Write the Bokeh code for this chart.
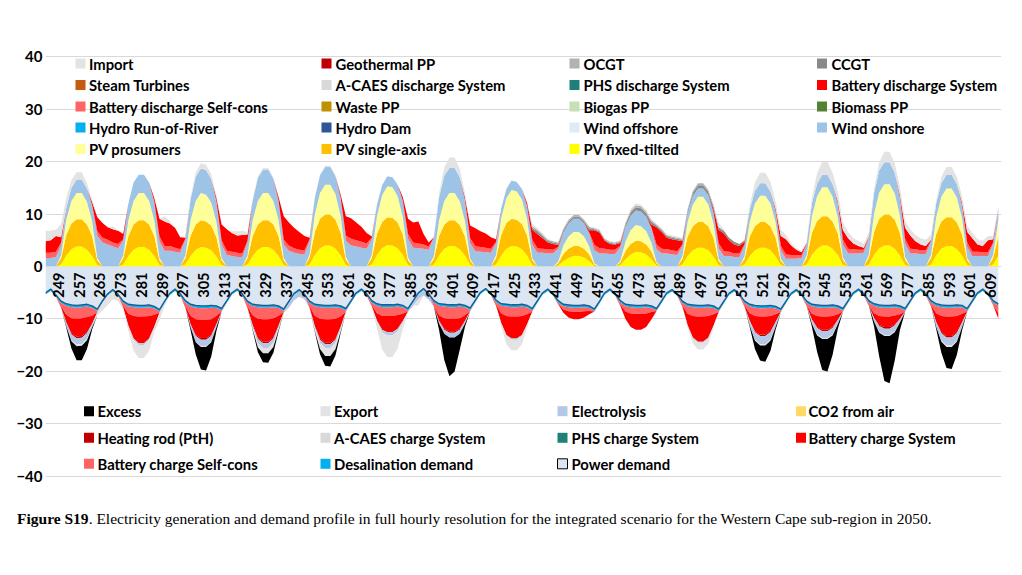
import numpy as np
from bokeh.plotting import figure
from bokeh.models import Range1d, FixedTicker, Div
from bokeh.layouts import column
from bokeh.core.properties import value
from bokeh.embed import file_html
from bokeh.resources import INLINE

# ---------------- data (2-hourly samples, one row per day) ----------------
START_HOUR = 244
STEP = 2
Z = [0] * 12

PV_FIXED = [
    [0, 0, 0, 0.4, 2.1, 3.3, 3.8, 3.8, 3.2, 2.0, 0.3, 0],
    [0, 0, 0, 0.4, 2.0, 3.2, 3.7, 3.7, 3.2, 2.0, 0.3, 0],
    [0, 0, 0, 0.4, 2.0, 3.2, 3.7, 3.6, 3.1, 1.9, 0.3, 0],
    [0, 0, 0, 0.4, 2.0, 3.2, 3.7, 3.7, 3.2, 2.0, 0.3, 0],
    [0, 0, 0, 0.4, 2.2, 3.5, 4.0, 4.0, 3.4, 2.1, 0.3, 0],
    [0, 0, 0, 0.4, 2.2, 3.5, 4.1, 4.0, 3.5, 2.2, 0.3, 0],
    [0, 0, 0, 0.4, 2.1, 3.4, 3.9, 3.9, 3.3, 2.1, 0.3, 0],
    [0, 0, 0, 0.4, 2.1, 3.4, 3.9, 3.8, 3.3, 2.1, 0.3, 0],
    [0, 0, 0, 0.2, 1.0, 1.6, 2.0, 2.0, 1.7, 1.0, 0.1, 0],
    [0, 0, 0, 0.3, 1.4, 2.3, 2.8, 2.7, 2.3, 1.4, 0.2, 0],
    [0, 0, 0, 0.4, 2.0, 3.1, 3.6, 3.6, 3.1, 1.9, 0.3, 0],
    [0, 0, 0, 0.4, 2.0, 3.1, 3.6, 3.6, 3.1, 1.9, 0.3, 0],
    [0, 0, 0, 0.4, 2.2, 3.4, 4.0, 4.0, 3.4, 2.2, 0.3, 0],
    [0, 0, 0, 0.4, 2.2, 3.5, 4.0, 4.0, 3.4, 2.1, 0.3, 0],
    [0, 0, 0, 0.4, 2.1, 3.4, 3.9, 3.9, 3.3, 2.1, 0.3, 0],
    [0, 0, 0, 0.4, 2.0],
]
PV_SINGLE = [
    [0, 0, 0, 1.2, 3.9, 4.9, 5.2, 5.2, 4.8, 3.8, 0.9, 0],
    [0, 0, 0, 1.2, 3.8, 4.8, 5.1, 5.1, 4.8, 3.8, 0.9, 0],
    [0, 0, 0, 1.2, 3.8, 4.8, 5.1, 5.0, 4.7, 3.7, 0.9, 0],
    [0, 0, 0, 1.2, 3.8, 4.8, 5.1, 5.1, 4.8, 3.8, 0.9, 0],
    [0, 0, 0, 1.3, 4.4, 5.6, 5.9, 5.9, 5.5, 4.3, 1.0, 0],
    [0, 0, 0, 1.2, 4.0, 5.0, 5.3, 5.3, 4.9, 3.9, 0.9, 0],
    [0, 0, 0, 1.1, 3.7, 4.6, 4.9, 4.9, 4.6, 3.6, 0.8, 0],
    [0, 0, 0, 1.2, 3.9, 4.9, 5.2, 5.1, 4.8, 3.8, 0.9, 0],
    [0, 0, 0, 0.4, 1.4, 1.8, 1.9, 1.9, 1.7, 1.3, 0.3, 0],
    [0, 0, 0, 0.5, 1.6, 2.0, 2.1, 2.1, 1.9, 1.5, 0.4, 0],
    [0, 0, 0, 1.1, 3.7, 4.6, 4.9, 4.9, 4.6, 3.6, 0.8, 0],
    [0, 0, 0, 1.1, 3.7, 4.6, 4.9, 4.9, 4.6, 3.6, 0.8, 0],
    [0, 0, 0, 1.2, 4.2, 5.3, 5.6, 5.6, 5.2, 4.1, 1.0, 0],
    [0, 0, 0, 1.3, 4.4, 5.6, 5.9, 5.9, 5.5, 4.3, 1.0, 0],
    [0, 0, 0, 1.2, 4.1, 5.2, 5.5, 5.5, 5.1, 4.0, 0.9, 0],
    [0, 0, 0, 1.2, 3.8],
]
PV_PROS = [
    [0, 0, 0, 0.5, 2.9, 4.3, 5.0, 5.0, 4.3, 2.8, 0.4, 0],
    [0, 0, 0, 0.5, 3.0, 4.5, 5.2, 5.2, 4.5, 3.0, 0.4, 0],
    [0, 0, 0, 0.5, 3.0, 4.5, 5.2, 5.1, 4.4, 2.9, 0.4, 0],
    [0, 0, 0, 0.5, 3.0, 4.5, 5.2, 5.2, 4.5, 3.0, 0.4, 0],
    [0, 0, 0, 0.6, 3.3, 4.9, 5.7, 5.7, 4.9, 3.2, 0.5, 0],
    [0, 0, 0, 0.6, 3.4, 5.1, 5.9, 5.8, 5.0, 3.3, 0.5, 0],
    [0, 0, 0, 0.5, 3.0, 4.5, 5.2, 5.2, 4.5, 3.0, 0.4, 0],
    [0, 0, 0, 0.6, 3.2, 4.7, 5.5, 5.4, 4.7, 3.1, 0.4, 0],
    [0, 0, 0, 0.3, 1.6, 2.3, 2.7, 2.7, 2.3, 1.5, 0.2, 0],
    [0, 0, 0, 0.3, 1.7, 2.6, 3.0, 2.9, 2.5, 1.7, 0.2, 0],
    [0, 0, 0, 0.5, 2.8, 4.1, 4.8, 4.8, 4.1, 2.7, 0.4, 0],
    [0, 0, 0, 0.5, 2.9, 4.3, 5.0, 5.0, 4.3, 2.9, 0.4, 0],
    [0, 0, 0, 0.6, 3.2, 4.7, 5.5, 5.5, 4.7, 3.1, 0.4, 0],
    [0, 0, 0, 0.6, 3.4, 5.0, 5.8, 5.8, 5.0, 3.3, 0.5, 0],
    [0, 0, 0, 0.6, 3.2, 4.7, 5.5, 5.5, 4.7, 3.1, 0.4, 0],
    [0, 0, 0, 0.6, 3.0],
]
WIND_ON = [
    [1.6, 1.6, 1.8, 2.0, 2.3, 2.5, 2.6, 2.6, 2.6, 3.0, 4.2, 4.6],
    [4.2, 3.8, 3.5, 2.8, 3.2, 3.5, 3.5, 3.5, 3.5, 3.4, 3.2, 3.0],
    [3.0, 2.8, 2.6, 3.0, 4.0, 4.6, 4.7, 4.7, 4.5, 3.8, 2.6, 2.2],
    [2.0, 1.8, 1.8, 2.5, 3.8, 4.4, 4.5, 4.5, 4.3, 3.6, 2.6, 3.0],
    [2.6, 2.4, 2.3, 2.6, 3.2, 3.4, 3.4, 3.4, 3.4, 3.3, 3.1, 4.0],
    [3.8, 3.6, 3.4, 3.0, 2.2, 1.9, 1.9, 1.9, 2.2, 3.0, 3.6, 3.6],
    [3.5, 3.4, 3.2, 3.5, 4.4, 4.8, 4.8, 4.8, 4.6, 3.8, 3.0, 2.9],
    [2.8, 2.7, 2.6, 2.2, 1.9, 1.8, 1.8, 1.8, 2.0, 2.4, 2.6, 2.6],
    [2.6, 2.5, 2.5, 2.5, 2.5, 2.5, 2.5, 2.5, 2.5, 2.5, 2.5, 2.5],
    [2.5, 2.4, 2.4, 2.6, 2.8, 2.8, 2.8, 2.8, 2.8, 2.7, 2.5, 2.5],
    [2.5, 2.3, 2.2, 1.9, 1.6, 1.6, 1.6, 1.6, 1.8, 2.0, 2.0, 2.0],
    [2.0, 1.8, 1.8, 2.0, 2.3, 2.4, 2.4, 2.4, 2.3, 2.0, 1.6, 1.5],
    [1.5, 1.5, 1.6, 2.0, 2.4, 2.4, 2.4, 2.4, 2.4, 2.5, 2.5, 2.5],
    [2.5, 2.5, 2.6, 3.2, 4.0, 4.2, 4.2, 4.2, 4.0, 3.4, 2.6, 2.5],
    [2.5, 2.4, 2.4, 2.5, 2.6, 2.6, 2.6, 2.6, 2.6, 2.4, 2.1, 2.0],
    [2.0, 2.0, 2.0, 2.1, 2.3],
]
BATT_DIS_SELF = [
    [1.0, 1.0, 1.0, 0.5, 0, 0, 0, 0, 0, 0.2, 0.9, 0.9],
    [0.9, 0.8, 0.8, 0.3, 0, 0, 0, 0, 0, 0.2, 0.9, 0.9],
    [0.9, 0.8, 0.7, 0.2, 0, 0, 0, 0, 0, 0.2, 0.8, 0.8],
    [0.8, 0.8, 0.7, 0.3, 0, 0, 0, 0, 0, 0.2, 0.9, 1.0],
    [0.9, 0.8, 0.8, 0.3, 0, 0, 0, 0, 0, 0.2, 1.0, 1.3],
    [1.2, 1.1, 1.0, 0.3, 0, 0, 0, 0, 0, 0.2, 0.9, 1.0],
    [0.9, 0.8, 0.6, 0.1, 0, 0, 0, 0, 0, 0.2, 0.9, 1.0],
    [0.9, 0.9, 0.8, 0.3, 0, 0, 0, 0, 0, 0.2, 0.9, 0.9],
    [0.8, 0.8, 0.7, 0.3, 0, 0, 0, 0, 0, 0.2, 1.0, 1.0],
    [0.9, 0.8, 0.8, 0.3, 0, 0, 0, 0, 0, 0.2, 0.9, 0.9],
    [0.8, 0.8, 0.7, 0.3, 0, 0, 0, 0, 0, 0.2, 0.9, 0.9],
    [0.8, 0.7, 0.7, 0.3, 0, 0, 0, 0, 0, 0.2, 0.8, 0.8],
    [0.7, 0.7, 0.6, 0.2, 0, 0, 0, 0, 0, 0.2, 0.9, 0.9],
    [0.8, 0.7, 0.6, 0.1, 0, 0, 0, 0, 0, 0.2, 0.9, 0.9],
    [0.8, 0.7, 0.7, 0.2, 0, 0, 0, 0, 0, 0.2, 0.9, 0.8],
    [0.8, 0.7, 0.7, 0.3, 0],
]
BATT_DIS_SYS = [
    [2.2, 2.4, 3.0, 1.0, 0, 0, 0, 0, 0, 0.5, 2.7, 2.8],
    [2.4, 2.5, 2.5, 1.0, 0, 0, 0, 0, 0, 0.6, 3.4, 4.7],
    [4.3, 3.8, 2.3, 0.2, 0, 0, 0, 0, 0, 0.6, 3.0, 4.1],
    [3.6, 3.3, 3.5, 1.2, 0, 0, 0, 0, 0, 0.6, 4.5, 4.4],
    [3.9, 3.4, 2.7, 0.3, 0, 0, 0, 0, 0, 0.6, 3.7, 3.9],
    [3.4, 2.9, 2.0, 0.2, 0, 0, 0, 0, 0, 0.6, 2.9, 3.8],
    [4.2, 2.0, 0.8, 0.0, 0, 0, 0, 0, 0, 0.5, 2.4, 3.4],
    [3.0, 2.7, 2.2, 0.5, 0, 0, 0, 0, 0, 0.5, 1.9, 2.7],
    [2.0, 1.3, 1.1, 0.4, 0, 0, 0, 0, 0, 0.4, 2.8, 3.0],
    [1.5, 1.1, 1.0, 0.5, 0, 0, 0, 0, 0, 0.5, 3.3, 3.2],
    [2.2, 2.1, 2.1, 0.6, 0, 0, 0, 0, 0, 0.5, 2.6, 3.4],
    [2.2, 1.7, 1.4, 0.4, 0, 0, 0, 0, 0, 0.4, 1.9, 2.9],
    [1.8, 1.0, 0.5, 0.1, 0, 0, 0, 0, 0, 0.4, 1.8, 2.0],
    [1.1, 0.7, 0.4, 0.1, 0, 0, 0, 0, 0, 0.4, 2.1, 2.5],
    [1.5, 1.1, 0.8, 0.2, 0, 0, 0, 0, 0, 0.4, 2.0, 2.6],
    [1.4, 1.2, 2.3, 0.6, 0],
]
CCGT = [
    Z, Z, Z, Z, Z, Z, Z,
    [0, 0, 0, 0, 0, 0, 0, 0, 0, 0, 0.4, 0.5],
    [0.4, 0.3, 0.3, 0.3, 0.4, 0.4, 0.4, 0.4, 0.4, 0.4, 0.2, 0.2],
    [0.2, 0.2, 0.2, 0.2, 0.5, 0.6, 0.6, 0.6, 0.6, 0.5, 0.3, 0.3],
    [0.3, 0.3, 0.3, 0.3, 0.5, 0.6, 0.6, 0.6, 0.6, 0.5, 0.5, 0.5],
    [0.5, 0.5, 0.4, 0.3, 0, 0, 0, 0, 0, 0, 0, 0],
    Z, Z, Z,
    [0, 0, 0, 0, 0],
]
OCGT = [
    Z, Z, Z, Z, Z, Z, Z,
    [0, 0, 0, 0, 0, 0, 0, 0, 0, 0, 0.3, 0.3],
    [0.3, 0.2, 0.2, 0.2, 0.3, 0.3, 0.3, 0.3, 0.3, 0.3, 0.2, 0.2],
    [0.2, 0.2, 0.2, 0.2, 0.3, 0.4, 0.4, 0.4, 0.4, 0.3, 0.2, 0.2],
    [0.2, 0.2, 0.2, 0.2, 0.3, 0.4, 0.4, 0.4, 0.4, 0.3, 0, 0],
    Z, Z, Z, Z,
    [0, 0, 0, 0, 0],
]
IMPORT = [
    [2.0, 1.8, 1.2, 2.5, 1.8, 1.5, 1.4, 1.4, 1.0, 0.5, 0, 0],
    [0, 0.6, 0, 0, 0, 0, 0, 0, 0, 0, 0, 1.0],
    [0.5, 0, 0, 0, 0.5, 0.9, 1.0, 1.0, 0.9, 0.5, 0, 0],
    [0.3, 0.8, 0.8, 0.5, 0.2, 0.3, 0.3, 0.3, 0.2, 0, 0, 0],
    [0, 0, 0, 0, 0.1, 0.2, 0.2, 0.2, 0.2, 0.1, 0, 0],
    Z,
    [0, 0, 0, 0, 0.8, 1.6, 2.0, 2.0, 1.6, 0.8, 0, 0],
    [0, 0, 0, 0, 0, 0, 0, 0, 0, 0, 0.5, 0.3],
    [0.2, 0.2, 0.1, 0.1, 0, 0, 0, 0, 0, 0, 0.2, 0.2],
    [0.1, 0.1, 0.1, 0.1, 0.1, 0.3, 0.3, 0.3, 0.3, 0.2, 0.2, 0.2],
    [0.2, 0.2, 0.2, 0.2, 0, 0, 0, 0, 0, 0.2, 0.8, 0.3],
    [0, 0, 0, 0, 0.8, 1.6, 2.0, 2.0, 1.8, 1.4, 1.2, 0.8],
    [0.5, 0.3, 0.3, 0.3, 1.0, 2.0, 2.5, 2.5, 2.2, 1.8, 1.5, 1.2],
    [1.0, 1.0, 0.8, 0.8, 0.8, 1.6, 2.0, 2.0, 1.8, 1.5, 1.3, 1.2],
    [1.2, 1.2, 1.2, 1.0, 0.6, 1.2, 1.5, 1.5, 1.4, 1.2, 1.2, 1.0],
    [1.0, 1.0, 0.8, 0.6, 0.5],
]

POWER_DEMAND = [
    [-5.0, -4.3, -5.4, -6.6, -7.1, -7.3, -7.4, -7.3, -7.2, -7.5, -8.1, -6.5],
    [-5.2, -4.4, -5.3, -6.6, -7.2, -7.3, -7.4, -7.4, -7.3, -7.6, -8.2, -6.6],
    [-5.1, -4.3, -5.2, -6.5, -7.2, -7.4, -7.5, -7.5, -7.4, -7.5, -8.0, -6.5],
    [-5.0, -4.3, -5.2, -6.6, -7.2, -7.3, -7.4, -7.4, -7.3, -7.5, -8.1, -6.6],
    [-5.1, -4.4, -5.3, -6.6, -7.2, -7.3, -7.4, -7.4, -7.3, -7.5, -8.0, -6.5],
    [-5.0, -4.3, -5.2, -6.5, -7.1, -7.3, -7.3, -7.3, -7.2, -7.4, -8.0, -6.5],
    [-5.0, -4.2, -5.2, -6.5, -7.1, -7.2, -7.3, -7.3, -7.2, -7.4, -7.9, -6.4],
    [-4.9, -4.2, -5.1, -6.4, -7.1, -7.2, -7.3, -7.3, -7.2, -7.4, -8.0, -6.5],
    [-5.0, -4.3, -5.2, -6.5, -7.2, -7.3, -7.4, -7.4, -7.3, -7.5, -8.1, -6.6],
    [-5.0, -4.3, -5.2, -6.5, -7.2, -7.3, -7.4, -7.4, -7.3, -7.5, -8.0, -6.5],
    [-5.0, -4.4, -5.3, -6.6, -7.2, -7.3, -7.4, -7.4, -7.3, -7.5, -8.1, -6.6],
    [-5.1, -4.4, -5.3, -6.6, -7.2, -7.4, -7.5, -7.5, -7.4, -7.6, -8.1, -6.6],
    [-5.1, -4.4, -5.3, -6.6, -7.2, -7.3, -7.4, -7.4, -7.3, -7.5, -8.0, -6.5],
    [-5.0, -4.3, -5.2, -6.5, -7.1, -7.3, -7.4, -7.4, -7.3, -7.5, -8.0, -6.5],
    [-5.0, -4.3, -5.2, -6.5, -7.1, -7.3, -7.4, -7.4, -7.3, -7.4, -8.0, -6.5],
    [-5.0, -4.3, -5.2, -6.5, -7.1],
]
DESALINATION = [
    [-0.35, -0.35, -0.35, -0.4, -0.4, -0.45, -0.45, -0.45, -0.45, -0.4, -0.4, -0.4],
    [-0.35, -0.35, -0.35, -0.4, -0.4, -0.45, -0.45, -0.45, -0.45, -0.4, -0.4, -0.4],
    [-0.35, -0.35, -0.35, -0.4, -0.4, -0.45, -0.45, -0.45, -0.45, -0.4, -0.4, -0.4],
    [-0.35, -0.35, -0.35, -0.4, -0.4, -0.45, -0.45, -0.45, -0.45, -0.4, -0.4, -0.4],
    [-0.35, -0.35, -0.35, -0.4, -0.4, -0.45, -0.45, -0.45, -0.45, -0.4, -0.4, -0.4],
    [-0.35, -0.35, -0.35, -0.4, -0.4, -0.45, -0.45, -0.45, -0.45, -0.4, -0.4, -0.4],
    [-0.35, -0.35, -0.35, -0.4, -0.4, -0.45, -0.45, -0.45, -0.45, -0.4, -0.4, -0.4],
    [-0.35, -0.35, -0.35, -0.4, -0.4, -0.45, -0.45, -0.45, -0.45, -0.4, -0.4, -0.4],
    [-0.35, -0.35, -0.35, -0.4, -0.4, -0.45, -0.45, -0.45, -0.45, -0.4, -0.4, -0.4],
    [-0.35, -0.35, -0.35, -0.4, -0.4, -0.45, -0.45, -0.45, -0.45, -0.4, -0.4, -0.4],
    [-0.35, -0.35, -0.35, -0.4, -0.4, -0.45, -0.45, -0.45, -0.45, -0.4, -0.4, -0.4],
    [-0.35, -0.35, -0.35, -0.4, -0.4, -0.45, -0.45, -0.45, -0.45, -0.4, -0.4, -0.4],
    [-0.35, -0.35, -0.35, -0.4, -0.4, -0.45, -0.45, -0.45, -0.45, -0.4, -0.4, -0.4],
    [-0.35, -0.35, -0.35, -0.4, -0.4, -0.45, -0.45, -0.45, -0.45, -0.4, -0.4, -0.4],
    [-0.35, -0.35, -0.35, -0.4, -0.4, -0.45, -0.45, -0.45, -0.45, -0.4, -0.4, -0.4],
    [-0.35, -0.35, -0.35, -0.4, -0.4],
]
BATT_CH_SELF = [
    [0, 0, 0, -0.6, -1.7, -2.1, -2.1, -2.1, -2.0, -1.5, -0.2, 0],
    [0, 0, 0, -0.5, -1.4, -1.7, -1.7, -1.7, -1.7, -1.2, -0.2, 0],
    [0, 0, 0, -0.7, -1.8, -2.2, -2.2, -2.2, -2.2, -1.5, -0.2, 0],
    [0, 0, 0, -0.7, -1.7, -2.2, -2.2, -2.2, -2.1, -1.5, -0.2, 0],
    [0, 0, 0, -0.7, -1.8, -2.2, -2.2, -2.2, -2.2, -1.6, -0.2, 0],
    [0, 0, 0, -0.5, -1.4, -1.7, -1.7, -1.7, -1.6, -1.2, -0.2, 0],
    [0, 0, 0, -0.7, -1.8, -2.2, -2.2, -2.2, -2.2, -1.5, -0.2, 0],
    [0, 0, 0, -0.5, -1.4, -1.8, -1.8, -1.8, -1.8, -1.3, -0.2, 0],
    [0, 0, 0, -0.2, -0.6, -0.8, -0.8, -0.8, -0.8, -0.6, -0.1, 0],
    [0, 0, 0, -0.4, -1.0, -1.2, -1.2, -1.2, -1.2, -0.8, -0.1, 0],
    [0, 0, 0, -0.5, -1.4, -1.7, -1.7, -1.7, -1.7, -1.2, -0.2, 0],
    [0, 0, 0, -0.5, -1.3, -1.6, -1.6, -1.6, -1.6, -1.1, -0.2, 0],
    [0, 0, 0, -0.5, -1.4, -1.7, -1.7, -1.7, -1.7, -1.2, -0.2, 0],
    [0, 0, 0, -0.5, -1.4, -1.7, -1.7, -1.7, -1.6, -1.2, -0.2, 0],
    [0, 0, 0, -0.5, -1.4, -1.7, -1.7, -1.7, -1.7, -1.2, -0.2, 0],
    [0, 0, 0, -0.5, -1.4],
]
BATT_CH_SYS = [
    [0, 0, 0, -0.2, -1.5, -2.9, -3.4, -3.4, -2.9, -1.5, 0, 0],
    [0, 0, 0, -0.3, -2.3, -4.3, -5.1, -5.1, -4.3, -2.3, 0, 0],
    [0, 0, 0, -0.2, -1.6, -3.0, -3.5, -3.5, -3.0, -1.6, 0, 0],
    [0, 0, 0, -0.2, -1.9, -3.7, -4.3, -4.3, -3.7, -1.9, 0, 0],
    [0, 0, 0, -0.2, -2.0, -3.8, -4.5, -4.5, -3.8, -2.0, 0, 0],
    [0, 0, 0, -0.2, -1.4, -2.6, -3.1, -3.1, -2.6, -1.4, 0, 0],
    [0, 0, 0, -0.1, -1.1, -2.0, -2.4, -2.4, -2.0, -1.1, 0, 0],
    [0, 0, 0, -0.2, -1.9, -3.6, -4.2, -4.2, -3.6, -1.9, 0, 0],
    [0, 0, 0, -0.1, -0.6, -1.2, -1.4, -1.4, -1.2, -0.6, 0, 0],
    [0, 0, 0, -0.2, -1.4, -2.6, -3.0, -3.0, -2.6, -1.4, 0, 0],
    [0, 0, 0, -0.2, -2.2, -4.1, -4.8, -4.8, -4.1, -2.2, 0, 0],
    [0, 0, 0, -0.2, -1.5, -2.9, -3.4, -3.4, -2.9, -1.5, 0, 0],
    [0, 0, 0, -0.1, -1.1, -2.1, -2.5, -2.5, -2.1, -1.1, 0, 0],
    [0, 0, 0, -0.1, -0.9, -1.7, -2.0, -2.0, -1.7, -0.9, 0, 0],
    [0, 0, 0, -0.2, -1.7, -3.1, -3.7, -3.7, -3.1, -1.7, 0, 0],
    [0, 0, 0, 0, -1.0],
]
HEATING_ROD = [
    [0, 0, 0, 0, 0, -0.2, -0.35, -0.35, -0.2, 0, 0, 0],
    Z,
    [0, 0, 0, 0, 0, -0.2, -0.3, -0.3, -0.2, 0, 0, 0],
    [0, 0, 0, 0, 0, -0.2, -0.3, -0.3, -0.2, 0, 0, 0],
    [0, 0, 0, 0, 0, -0.2, -0.3, -0.3, -0.2, 0, 0, 0],
    Z,
    [0, 0, 0, 0, 0, -0.2, -0.3, -0.3, -0.2, 0, 0, 0],
    Z, Z, Z, Z,
    [0, 0, 0, 0, 0, -0.2, -0.3, -0.3, -0.2, 0, 0, 0],
    [0, 0, 0, 0, 0, -0.2, -0.3, -0.3, -0.2, 0, 0, 0],
    [0, 0, 0, 0, 0, -0.2, -0.3, -0.3, -0.2, 0, 0, 0],
    [0, 0, 0, 0, 0, -0.2, -0.3, -0.3, -0.2, 0, 0, 0],
    [0, 0, 0, 0, 0],
]
ELECTROLYSIS = [
    [0, 0, 0, 0, -0.6, -1.1, -1.2, -1.2, -1.1, -0.6, -0.1, 0],
    [0, 0, 0, 0, -0.2, -0.3, -0.3, -0.3, -0.3, -0.2, 0, 0],
    [0, 0, 0, 0, -0.6, -1.1, -1.2, -1.2, -1.1, -0.6, -0.1, 0],
    [0, 0, 0, 0, -0.5, -0.8, -0.9, -0.9, -0.8, -0.5, -0.1, -0.8],
    [-1.0, -1.0, -0.6, 0, -0.4, -0.6, -0.7, -0.7, -0.6, -0.4, -0.1, 0],
    [0, 0, 0, 0, -0.3, -0.5, -0.6, -0.6, -0.5, -0.3, -0.1, -0.6],
    [-0.9, -1.0, -0.8, 0, -0.5, -0.8, -0.9, -0.9, -0.8, -0.5, -0.1, 0],
    [0, 0, 0, 0, -0.1, -0.2, -0.2, -0.2, -0.2, -0.1, 0, 0],
    Z, Z,
    [0, 0, 0, 0, -0.1, -0.2, -0.2, -0.2, -0.2, -0.1, 0, 0],
    [0, 0, 0, 0, -0.8, -1.4, -1.6, -1.6, -1.4, -0.8, -0.1, 0],
    [0, 0, 0, 0, -0.7, -1.2, -1.3, -1.3, -1.2, -0.7, -0.1, 0],
    [0, 0, 0, 0, -0.6, -1.1, -1.2, -1.2, -1.1, -0.6, -0.1, 0],
    [0, 0, 0, 0, -0.8, -1.4, -1.5, -1.5, -1.4, -0.8, -0.1, 0],
    [0, 0, 0, 0, 0],
]
EXPORT = [
    [0, 0, 0, 0, -0.1, -0.2, -0.3, -0.3, -0.2, -0.1, -0.5, -1.5],
    [-1.8, -1.5, -1.0, -0.5, -0.8, -2.0, -2.5, -2.5, -2.0, -0.8, -1.5, -0.5],
    [0, 0, 0, 0, 0, -0.1, -0.2, -0.2, -0.1, 0, 0, 0],
    [0, 0, 0, 0, -0.3, -0.8, -1.0, -1.0, -0.8, -0.3, 0, 0],
    [0, 0, 0, 0, -0.5, -1.2, -1.5, -1.5, -1.2, -0.5, 0, 0],
    [0, 0, 0, 0, -1.2, -3.3, -4.1, -4.1, -3.3, -1.2, 0, 0],
    [-1.2, 0, 0, 0, 0, 0, 0, 0, 0, 0, 0, 0],
    [0, 0, 0, 0, -0.6, -1.6, -2.0, -2.0, -1.6, -0.6, 0, 0],
    Z, Z,
    [0, 0, 0, 0, -0.4, -1.0, -1.3, -1.3, -1.0, -0.4, 0, 0],
    [0, 0, 0, 0, -0.1, -0.2, -0.2, -0.2, -0.2, -0.1, 0, 0],
    [0, 0, 0, 0, -0.1, -0.2, -0.2, -0.2, -0.2, -0.1, 0, 0],
    [0, 0, 0, 0, -0.1, -0.2, -0.2, -0.2, -0.2, -0.1, 0, 0],
    [0, 0, 0, 0, -0.1, -0.2, -0.3, -0.3, -0.2, -0.1, 0, 0],
    [0, 0, 0, 0, 0],
]
EXCESS = [
    [0, 0, 0, 0, -0.3, -1.4, -2.7, -2.8, -1.7, -0.4, 0, 0],
    Z,
    [0, 0, 0, 0, -0.5, -2.3, -4.3, -4.5, -2.7, -0.7, 0, 0],
    [0, 0, 0, 0, -0.2, -0.9, -1.7, -1.8, -1.1, -0.3, 0, 0],
    [0, 0, 0, 0, -0.2, -1.0, -1.9, -2.0, -1.2, -0.3, 0, 0],
    Z,
    [0, 0, 0, 0, -1.2, -5.0, -7.4, -6.5, -3.0, -0.6, 0, 0],
    Z, Z, Z, Z,
    [0, 0, 0, 0, -0.3, -1.6, -2.9, -3.1, -1.9, -0.5, 0, 0],
    [0, 0, 0, 0, -0.6, -3.1, -5.9, -6.2, -3.7, -0.9, 0, 0],
    [0, 0, 0, 0, -0.9, -4.5, -8.6, -9.0, -5.4, -1.4, 0, 0],
    [0, 0, 0, 0, -0.4, -2.1, -4.0, -4.2, -2.5, -0.6, 0, 0],
    [0, 0, 0, 0, 0],
]

TICK_LABELS = ["249", "257", "265", "273", "281", "289", "297", "305", "313", "321",
               "329", "337", "345", "353", "361", "369", "377", "385", "393", "401",
               "409", "417", "425", "433", "441", "449", "457", "465", "473", "481",
               "489", "497", "505", "513", "521", "529", "537", "545", "553", "561",
               "569", "577", "585", "593", "601", "609"]
Y_TICKS = [-40, -30, -20, -10, 0, 10, 20, 30, 40]

LEGEND_TOP = [
    ["Import", "Geothermal PP", "OCGT", "CCGT"],
    ["Steam Turbines", "A-CAES discharge System", "PHS discharge System", "Battery discharge System"],
    ["Battery discharge Self-cons", "Waste PP", "Biogas PP", "Biomass PP"],
    ["Hydro Run-of-River", "Hydro Dam", "Wind offshore", "Wind onshore"],
    ["PV prosumers", "PV single-axis", "PV fixed-tilted"],
]
LEGEND_BOTTOM = [
    ["Excess", "Export", "Electrolysis", "CO2 from air"],
    ["Heating rod (PtH)", "A-CAES charge System", "PHS charge System", "Battery charge System"],
    ["Battery charge Self-cons", "Desalination demand", "Power demand"],
]
CAPTION_BOLD = "Figure S19"
CAPTION_REST = (". Electricity generation and demand profile in full hourly resolution for the "
                "integrated scenario for the Western Cape sub-region in 2050.")

# ---------------- styling ----------------
COLORS = {
    "Import": "#E3E3E3", "Geothermal PP": "#C00000", "OCGT": "#B2B2B2", "CCGT": "#8A8A8A",
    "Steam Turbines": "#C55A11", "A-CAES discharge System": "#D9D9D9",
    "PHS discharge System": "#1F8079", "Battery discharge System": "#FF0000",
    "Battery discharge Self-cons": "#FF6363", "Waste PP": "#BF9000", "Biogas PP": "#C5E0B4",
    "Biomass PP": "#548235", "Hydro Run-of-River": "#00B0F0", "Hydro Dam": "#2F5597",
    "Wind offshore": "#DEEBF7", "Wind onshore": "#9DC3E6", "PV prosumers": "#FFFF99",
    "PV single-axis": "#FFC000", "PV fixed-tilted": "#FFFF00",
    "Excess": "#000000", "Export": "#E3E3E3", "Electrolysis": "#B4C7E7", "CO2 from air": "#FFD966",
    "Heating rod (PtH)": "#C00000", "A-CAES charge System": "#D9D9D9",
    "PHS charge System": "#1F8079", "Battery charge System": "#FF0000",
    "Battery charge Self-cons": "#FF6363", "Desalination demand": "#00B0F0",
    "Power demand": "#DCE6F2",
}


def flat(rows):
    return np.array([v for r in rows for v in r], dtype=float)


n = sum(len(r) for r in PV_FIXED)
hours = START_HOUR + STEP * np.arange(n)


# pixel helpers (image px -> data units) used only for placing annotations
def hx(px):
    return 249 + (px - 58) / 2.589


def vy(py):
    return (266 - py) / 5.243


PLOT_H = 505
p = figure(width=1006, height=PLOT_H, output_backend="svg", toolbar_location=None,
           x_range=Range1d(hx(45), hx(1001)), y_range=Range1d(vy(PLOT_H), vy(0)),
           min_border_left=45, min_border_right=5, min_border_top=0, min_border_bottom=0,
           title=None)
p.outline_line_color = None
p.background_fill_color = "white"
p.border_fill_color = "white"
p.xaxis.visible = False
p.xgrid.grid_line_color = None
p.ygrid.ticker = FixedTicker(ticks=Y_TICKS)
p.ygrid.grid_line_color = "#D9D9D9"
p.ygrid.grid_line_width = 1
p.yaxis.ticker = FixedTicker(ticks=Y_TICKS)
p.yaxis.axis_line_color = None
p.yaxis.major_tick_line_color = None
p.yaxis.minor_tick_line_color = None
p.yaxis.major_tick_out = 0
p.yaxis.major_tick_in = 0
p.yaxis.major_label_text_font = "Lato"
p.yaxis.major_label_text_font_style = "bold"
p.yaxis.major_label_text_font_size = "15px"
p.yaxis.major_label_text_color = "black"
p.yaxis.major_label_standoff = 3

# positive stack (bottom -> top)
pos_layers = [("PV fixed-tilted", PV_FIXED), ("PV single-axis", PV_SINGLE), ("PV prosumers", PV_PROS),
              ("Wind onshore", WIND_ON), ("Battery discharge Self-cons", BATT_DIS_SELF),
              ("Battery discharge System", BATT_DIS_SYS), ("CCGT", CCGT), ("OCGT", OCGT),
              ("Import", IMPORT)]
base = np.zeros(n)
for name, rows in pos_layers:
    top = base + flat(rows)
    p.varea(x=hours, y1=base, y2=top, fill_color=COLORS[name])
    base = top

# negative stack (0 -> down)
neg_layers = [("Power demand", POWER_DEMAND), ("Desalination demand", DESALINATION),
              ("Battery charge Self-cons", BATT_CH_SELF), ("Battery charge System", BATT_CH_SYS),
              ("Heating rod (PtH)", HEATING_ROD), ("Electrolysis", ELECTROLYSIS),
              ("Export", EXPORT), ("Excess", EXCESS)]
base = np.zeros(n)
demand_bottom = None
for name, rows in neg_layers:
    bot = base + flat(rows)
    p.varea(x=hours, y1=bot, y2=base, fill_color=COLORS[name])
    if name == "Power demand":
        demand_bottom = bot
    base = bot
p.line(x=hours, y=demand_bottom, line_color="#1F5A8C", line_width=1.3)

# category labels inside the chart, at the zero line
p.text(x=[int(s) for s in TICK_LABELS], y=[vy(272)] * len(TICK_LABELS), text=TICK_LABELS,
       angle=np.pi / 2, text_align="right", text_baseline="middle",
       text_font=value("Lato"), text_font_style="bold", text_font_size="14.5px", text_color="black")

# legends
TOP_SQ_X = [80, 326, 574, 821.5]
TOP_TX_X = [88.5, 335, 583, 831]
TOP_ROW_Y = [63, 84.5, 106, 127, 148.5]
BOT_SQ_X = [88.5, 325, 562, 800.5]
BOT_TX_X = [97, 333.5, 571, 808]
BOT_ROW_Y = [410.7, 437.3, 463.3]


def draw_legend(rows, sq_x, tx_x, row_y):
    xs, ys, cols, tx, txx, lc = [], [], [], [], [], []
    for r, row in enumerate(rows):
        for c, name in enumerate(row):
            xs.append(hx(sq_x[c]))
            ys.append(vy(row_y[r]))
            cols.append(COLORS[name])
            lc.append("#000000" if name == "Power demand" else None)
            tx.append(name)
            txx.append(hx(tx_x[c]))
    p.scatter(x=xs, y=ys, marker="square", size=10, fill_color=cols, line_color=lc, line_width=1)
    p.text(x=txx, y=ys, text=tx, text_align="left", text_baseline="middle",
           text_font=value("Lato"), text_font_style="bold", text_font_size="14.8px",
           text_color="black")


draw_legend(LEGEND_TOP, TOP_SQ_X, TOP_TX_X, TOP_ROW_Y)
draw_legend(LEGEND_BOTTOM, BOT_SQ_X, BOT_TX_X, BOT_ROW_Y)

# caption below the chart
caption = Div(text="<b>" + CAPTION_BOLD + "</b>" + CAPTION_REST, width=1006, height=40,
              margin=(0, 0, 0, 0),
              styles={"font-family": "'Liberation Serif', 'Times New Roman', serif",
                      "font-size": "15.5px", "line-height": "18px", "color": "black",
                      "padding-top": "5px", "padding-left": "17px", "white-space": "nowrap"})

open("out.html", "w").write(file_html(column(p, caption, spacing=0), INLINE))
